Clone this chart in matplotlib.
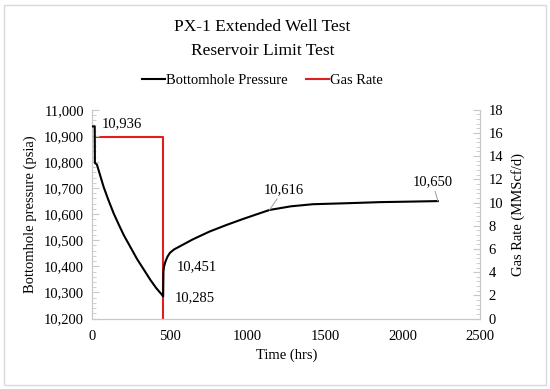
import matplotlib.pyplot as plt
from matplotlib.ticker import MultipleLocator, FuncFormatter
from matplotlib.patches import Rectangle

# bottomhole pressure (hrs, psia)
bhp_time = [0, 15, 16, 29, 72, 100, 137, 170, 202, 245, 288, 330, 374, 410, 450, 456,
            458, 462, 472, 484, 500, 527, 646, 754, 862, 969, 1077, 1142, 1280, 1422, 1650, 1854, 2050, 2228]
bhp_psia = [10936, 10936, 10796, 10790, 10705, 10659, 10603, 10560, 10520, 10474, 10428, 10389, 10348, 10318, 10290, 10285,
            10380, 10400, 10420, 10437, 10452, 10465, 10503, 10533, 10558, 10581, 10603, 10616, 10630, 10638, 10642, 10646, 10648, 10650]

# gas rate (hrs, MMScf/d)
rate_time = [15, 456, 456]
rate_mmscfd = [15.66, 15.66, 0]

# data labels: (hrs, psia, text)
labels = [(0, 10936, "10,936"), (456, 10285, "10,285"), (500, 10452, "10,451"),
          (1142, 10616, "10,616"), (2228, 10650, "10,650")]

plt.rcParams['font.family'] = ['Liberation Serif', 'DejaVu Serif']
plt.rcParams['font.size'] = 10

fig = plt.figure(figsize=(5.5, 3.89), dpi=100)
fig.patches.append(Rectangle((0.008, 0.01), 0.984, 0.978, transform=fig.transFigure,
                             fill=False, edgecolor='#d9d9d9', lw=1))
ax = fig.add_axes([0.168, 0.181, 0.705, 0.537])
ax2 = ax.twinx()

ax.plot(bhp_time, bhp_psia, color='black', lw=1.5, label='Bottomhole Pressure', zorder=3)
ax2.plot(rate_time, rate_mmscfd, color='#e01e1e', lw=1.5, label='Gas Rate')
ax.set_zorder(ax2.get_zorder() + 1)
ax.patch.set_visible(False)

ax.set_xlim(0, 2500)
ax.set_ylim(10200, 11000)
ax2.set_ylim(0, 18)
ax.xaxis.set_major_locator(MultipleLocator(500))
ax.yaxis.set_major_locator(MultipleLocator(100))
ax.yaxis.set_minor_locator(MultipleLocator(20))
ax2.yaxis.set_major_locator(MultipleLocator(2))
ax2.yaxis.set_minor_locator(MultipleLocator(0.4))
ax.yaxis.set_major_formatter(FuncFormatter(lambda v, p: f"{v:,.0f}"))

for a in (ax, ax2):
    for s in a.spines.values():
        s.set_color('#c8c8c8')
    a.spines['top'].set_visible(False)
    a.tick_params(which='both', color='#c8c8c8', labelsize=10.5)
    a.tick_params(which='major', length=5)
    a.tick_params(which='minor', length=3)
ax.tick_params(axis='x', length=0, pad=8)
ax.tick_params(axis='y', which='both', direction='in', pad=6)
ax2.tick_params(axis='y', which='both', direction='in', pad=6)

ax.set_xlabel('Time (hrs)', fontsize=10.5, labelpad=4)
ax.set_ylabel('Bottomhole pressure (psia)', fontsize=10.5, labelpad=5)
ax2.set_ylabel('Gas Rate (MMScf/d)', fontsize=10.5, labelpad=6)

# data labels
ax.annotate(labels[0][2], (labels[0][0], labels[0][1]), xytext=(7, 2), textcoords='offset points',
            ha='left', va='center', fontsize=10.5)
ax.annotate(labels[1][2], (labels[1][0], labels[1][1]), xytext=(8, -1), textcoords='offset points',
            ha='left', va='center', fontsize=10.5)
ax.annotate(labels[2][2], (labels[2][0], labels[2][1]), xytext=(5, -10), textcoords='offset points',
            ha='left', va='center', fontsize=10.5)
ax.annotate(labels[3][2], (labels[3][0], labels[3][1]), xytext=(10, 10), textcoords='offset points',
            ha='center', va='bottom', fontsize=10.5,
            arrowprops=dict(arrowstyle='-', color='#a6a6a6', lw=0.8, shrinkA=0, shrinkB=0))
ax.annotate(labels[4][2], (labels[4][0], labels[4][1]), xytext=(-4, 9), textcoords='offset points',
            ha='center', va='bottom', fontsize=10.5,
            arrowprops=dict(arrowstyle='-', color='#a6a6a6', lw=0.8, shrinkA=0, shrinkB=0))

fig.text(0.477, 0.931, 'PX-1 Extended Well Test', ha='center', va='center', fontsize=12.5)
fig.text(0.477, 0.868, 'Reservoir Limit Test', ha='center', va='center', fontsize=12.5)

h1, l1 = ax.get_legend_handles_labels()
h2, l2 = ax2.get_legend_handles_labels()
fig.legend(h1 + h2, l1 + l2, loc='center', bbox_to_anchor=(0.477, 0.793), ncol=2, frameon=False,
           fontsize=10.5, handlelength=1.6, handletextpad=0.1, columnspacing=1.2)

fig.savefig('out.png', dpi=100)
